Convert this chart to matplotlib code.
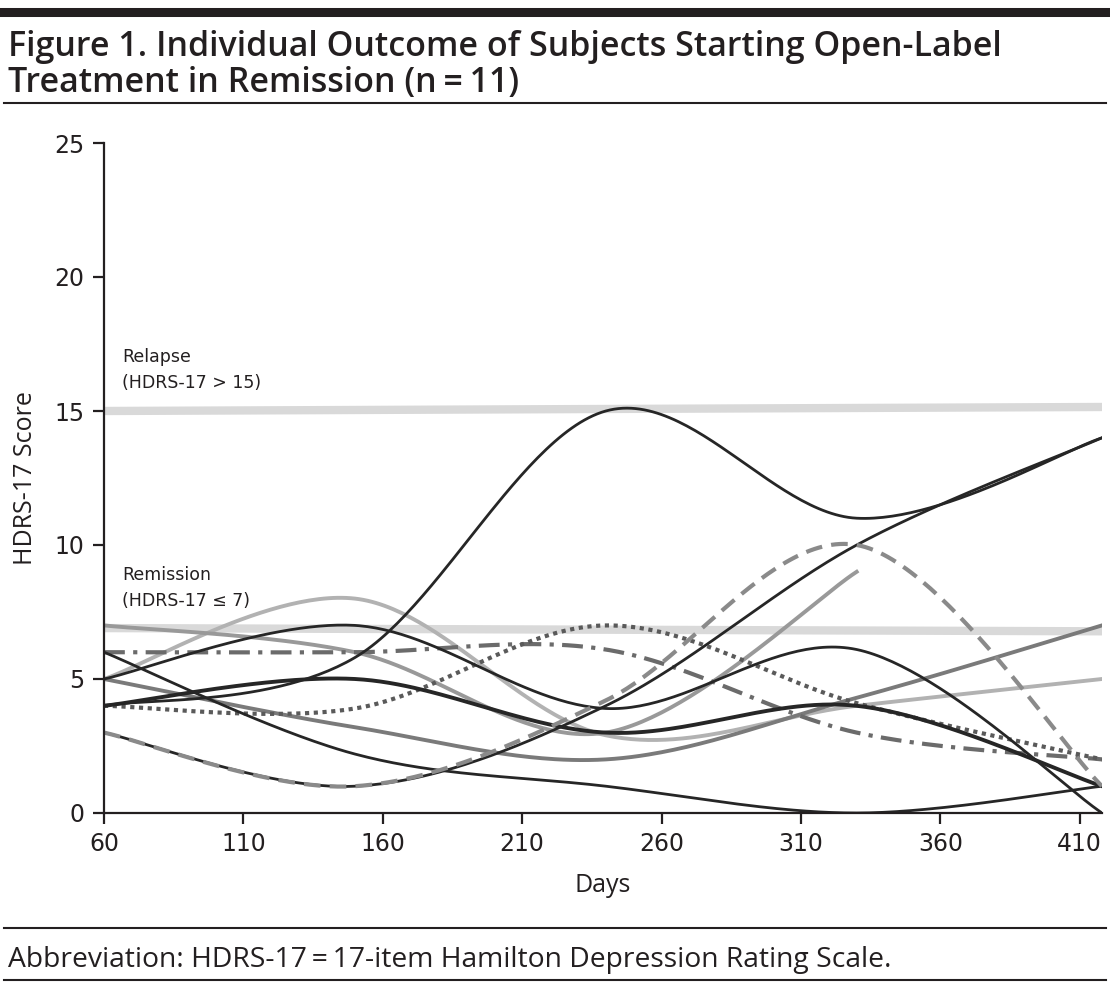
import numpy as np
import matplotlib
matplotlib.use("Agg")
import matplotlib.pyplot as plt
from matplotlib.lines import Line2D

# visit days and HDRS-17 scores per subject
days = [60, 150, 240, 330, 418]
days_short = [60, 150, 240, 330]

subj_a = [4, 5.8, 15, 11, 14]
subj_b = [4, 5, 3, 4, 1]
subj_c = [5, 7, 3.9, 6.1, 0]
subj_d = [3, 1, 4, 10, 14]
subj_e = [6, 2.2, 1, 0, 1]
subj_f = [3, 1, 4.2, 10, 1]
subj_g = [4, 3.9, 7, 4.1, 2]
subj_h = [6, 6, 6.1, 3, 2]
subj_i = [5, 8, 2.9, 4.0, 5]
subj_j = [7, 6, 3, 9]
subj_k = [5, 3.2, 2.0, 4.3, 7]

relapse_y = [15, 15.15]
remission_y = [6.9, 6.78]
xticks = [60, 110, 160, 210, 260, 310, 360, 410]
yticks = [0, 5, 10, 15, 20, 25]


def smooth(xs, ys, n=60):
    # excel-style smoothed line: bezier segments, catmull-rom control points
    p = np.column_stack([xs, ys]).astype(float)
    ext = np.vstack([p[0], p, p[-1]])
    out = []
    t = np.linspace(0, 1, n)[:, None]
    for i in range(len(p) - 1):
        p0, p3 = ext[i + 1], ext[i + 2]
        c1 = p0 + (ext[i + 2] - ext[i]) / 6
        c2 = p3 - (ext[i + 3] - ext[i + 1]) / 6
        seg = (1 - t) ** 3 * p0 + 3 * (1 - t) ** 2 * t * c1 + 3 * (1 - t) * t ** 2 * c2 + t ** 3 * p3
        out.append(seg if i == 0 else seg[1:])
    out = np.vstack(out)
    return out[:, 0], out[:, 1]


fig = plt.figure(figsize=(11.10, 9.89), dpi=100)
ax = fig.add_axes([104 / 1110, 1 - 813 / 989, 998 / 1110, 670 / 989])

band = '#d9d9d9'
ax.plot([days[0], days[-1]], relapse_y, color=band, lw=6, solid_capstyle='butt', zorder=1)
ax.plot([days[0], days[-1]], remission_y, color=band, lw=6, solid_capstyle='butt', zorder=1)

blk = '#262626'
series = [
    (days, subj_i, dict(color='#b2b2b2', lw=2.8)),
    (days_short, subj_j, dict(color='#999999', lw=2.8)),
    (days, subj_k, dict(color='#7a7a7a', lw=2.8)),
    (days, subj_h, dict(color='#6b6b6b', lw=3, ls=(0, (5, 2, 1, 2)))),
    (days, subj_g, dict(color='#5a5a5a', lw=3, ls=(0, (1, 1.1)))),
    (days, subj_a, dict(color=blk, lw=2)),
    (days, subj_b, dict(color=blk, lw=2.8)),
    (days, subj_c, dict(color=blk, lw=2)),
    (days, subj_d, dict(color=blk, lw=2)),
    (days, subj_e, dict(color=blk, lw=2)),
    (days, subj_f, dict(color='#8a8a8a', lw=3, ls=(0, (4, 2.2)))),
]
for xs, ys, kw in series:
    sx, sy = smooth(xs, ys)
    ax.plot(sx, sy, zorder=2, **kw)

ax.set_xlim(60, 418)
ax.set_ylim(0, 25)
ax.set_xticks(xticks)
ax.set_yticks(yticks)
for s in ['top', 'right']:
    ax.spines[s].set_visible(False)
for s in ['left', 'bottom']:
    ax.spines[s].set_color('#231f20')
    ax.spines[s].set_linewidth(1.6)
ax.tick_params(direction='out', length=8, width=1.6, color='#231f20',
               labelsize=17, labelcolor='#231f20', pad=6)

lab_font = dict(family='Open Sans', size=18, color='#231f20')
ax.set_xlabel('Days', labelpad=12, **lab_font)
ax.set_ylabel('HDRS-17 Score', labelpad=12, **lab_font)

ax.text(66.5, 17.0, 'Relapse', fontsize=12.5, va='center', color='#231f20')
ax.text(66.5, 16.05, '(HDRS-17 > 15)', fontsize=12.5, va='center', color='#231f20')
ax.text(66.5, 8.88, 'Remission', fontsize=12.5, va='center', color='#231f20')
ax.text(66.5, 7.9, '(HDRS-17 \u2264 7)', fontsize=12.5, va='center', color='#231f20')

# header and footer rules
def rule(y, w):
    fig.add_artist(Line2D([0.004, 0.996], [1 - y / 989, 1 - y / 989], color='#231f20', lw=w))

rule(12, 6.5)
rule(103, 1.5)
rule(928, 1.5)
rule(980, 1.5)

title_font = dict(family='Open Sans', weight='semibold', size=24.5, color='#231f20')
fig.text(8 / 1110, 1 - 56 / 989, 'Figure 1. Individual Outcome of Subjects Starting Open-Label',
         va='baseline', **title_font)
fig.text(8 / 1110, 1 - 92 / 989, 'Treatment in Remission (n\u2009=\u200911)',
         va='baseline', **title_font)
fig.text(8 / 1110, 1 - 967 / 989,
         'Abbreviation: HDRS-17\u2009=\u200917-item Hamilton Depression Rating Scale.',
         va='baseline', family='Open Sans', size=20.3, color='#231f20')

fig.savefig('out.png', dpi=100)
